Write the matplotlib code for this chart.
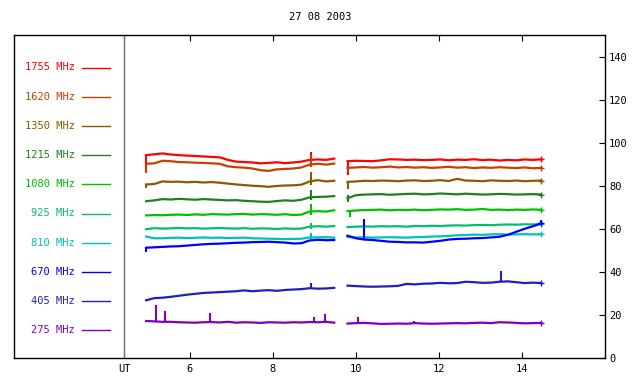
import numpy as np
import matplotlib
matplotlib.use("Agg")
import matplotlib.pyplot as plt
from matplotlib.lines import Line2D

plt.rcParams['font.family'] = ['DejaVu Sans Mono']

# частоты и цвета каналов
freqs = ["1755", "1620", "1350", "1215", "1080", "925", "810", "670", "405", "275"]
colors = ["#ff0000", "#c84000", "#8c5a00", "#208020", "#00c000",
          "#00c070", "#00c0c0", "#0000ff", "#2020c0", "#8000c0"]

# моменты отсчётов (UT, часы) для двух сеансов
t1 = np.linspace(4.95, 9.48, 24)
t2 = np.linspace(9.80, 14.47, 24)

# первый сеанс
s1 = {
    "1755": [94.2, 94.6, 95.0, 94.5, 94.2, 94.0, 93.8, 93.6, 93.4, 93.2, 92.0, 91.2,
             91.0, 90.8, 90.4, 90.6, 90.9, 90.5, 90.8, 91.2, 92.0, 92.2, 92.0, 92.6],
    "1620": [90.2, 90.4, 91.6, 91.4, 91.0, 90.9, 90.7, 90.6, 90.4, 90.2, 89.0, 88.6,
             88.4, 88.0, 87.2, 86.9, 87.6, 87.8, 88.0, 88.5, 89.8, 90.2, 89.8, 90.3],
    "1350": [80.6, 80.8, 82.0, 81.8, 81.9, 81.6, 81.8, 81.5, 81.7, 81.4, 81.0, 80.6,
             80.3, 80.0, 79.8, 79.5, 79.9, 80.1, 80.2, 80.5, 82.0, 82.6, 82.0, 82.3],
    "1215": [72.8, 73.2, 73.8, 73.6, 73.9, 73.7, 73.5, 73.8, 73.6, 73.4, 73.2, 73.3,
             73.0, 72.8, 72.6, 72.5, 72.9, 73.2, 73.0, 73.5, 74.6, 74.8, 74.9, 75.2],
    "1080": [66.2, 66.4, 66.3, 66.5, 66.6, 66.4, 66.7, 66.5, 66.8, 66.7, 66.6, 66.8,
             66.9, 66.6, 66.8, 66.7, 66.5, 66.8, 66.4, 66.6, 68.0, 68.2, 68.0, 68.6],
    "925":  [59.8, 60.3, 60.1, 60.2, 60.4, 60.2, 60.3, 60.1, 60.2, 60.4, 60.2, 60.1,
             60.3, 60.0, 60.2, 60.1, 59.9, 60.2, 60.0, 60.1, 61.0, 61.2, 61.0, 61.3],
    "810":  [56.4, 55.6, 55.6, 55.8, 55.9, 55.7, 55.8, 56.0, 55.8, 55.9, 55.7, 55.8,
             55.9, 55.6, 55.5, 55.4, 55.3, 55.2, 55.3, 55.4, 56.0, 56.0, 56.1, 55.9],
    "670":  [51.2, 51.4, 51.6, 51.8, 51.9, 52.2, 52.5, 52.8, 53.0, 53.1, 53.3, 53.5,
             53.6, 53.8, 53.9, 54.0, 53.8, 53.6, 53.2, 53.3, 54.6, 54.9, 54.7, 54.8],
    "405":  [26.8, 27.8, 28.0, 28.4, 28.9, 29.4, 29.8, 30.2, 30.4, 30.6, 30.8, 31.0,
             31.4, 31.0, 31.3, 31.5, 31.2, 31.6, 31.8, 32.0, 32.4, 32.2, 32.3, 32.6],
    "275":  [17.2, 17.0, 16.8, 16.8, 16.6, 16.5, 16.4, 16.6, 16.7, 16.5, 16.8, 16.4,
             16.6, 16.5, 16.3, 16.6, 16.5, 16.4, 16.6, 16.5, 16.7, 16.6, 16.8, 16.4],
}

# второй сеанс
s2 = {
    "1755": [91.4, 91.6, 91.5, 91.4, 91.8, 92.3, 92.2, 92.0, 92.1, 91.9, 92.0, 92.2,
             91.8, 92.1, 92.0, 92.3, 91.9, 92.1, 91.7, 92.0, 91.8, 92.2, 92.0, 92.3],
    "1620": [88.3, 88.5, 88.7, 88.4, 88.6, 88.9, 88.5, 88.7, 88.4, 88.6, 88.3, 88.5,
             88.8, 88.4, 88.6, 88.2, 88.5, 88.3, 88.6, 88.4, 88.2, 88.5, 88.1, 88.3],
    "1350": [81.8, 82.0, 82.3, 82.2, 82.4, 82.3, 82.1, 82.4, 82.5, 82.2, 82.3, 82.6,
             82.2, 83.2, 82.4, 82.3, 82.1, 82.5, 82.3, 82.2, 82.4, 82.1, 82.3, 82.4],
    "1215": [74.2, 75.6, 75.9, 76.0, 76.1, 75.8, 76.0, 76.2, 76.3, 76.0, 76.1, 76.4,
             76.2, 76.0, 76.3, 76.1, 75.9, 76.0, 76.2, 76.1, 75.9, 76.0, 76.1, 75.9],
    "1080": [68.2, 68.5, 68.7, 68.8, 68.9, 68.6, 68.8, 68.7, 68.9, 68.6, 68.8, 69.0,
             68.9, 69.1, 68.8, 68.9, 69.2, 68.8, 68.9, 68.7, 68.9, 68.8, 69.0, 68.8],
    "925":  [60.8, 61.0, 61.1, 61.0, 61.2, 61.1, 61.2, 61.0, 61.3, 61.2, 61.4, 61.3,
             61.5, 61.6, 61.5, 61.7, 61.8, 61.7, 61.9, 62.0, 61.9, 62.1, 62.0, 62.4],
    "810":  [56.2, 56.0, 56.1, 55.9, 56.0, 56.1, 56.0, 55.9, 56.1, 56.2, 56.4, 56.5,
             56.7, 57.0, 57.1, 57.3, 57.2, 57.4, 57.5, 57.3, 57.4, 57.5, 57.4, 57.5],
    "670":  [56.8, 55.6, 55.0, 54.8, 54.4, 54.0, 53.9, 53.7, 53.7, 53.6, 54.0, 54.4,
             55.0, 55.3, 55.4, 55.6, 55.7, 56.0, 56.3, 57.2, 58.6, 60.0, 61.2, 62.5],
    "405":  [33.6, 33.4, 33.2, 33.1, 33.2, 33.3, 33.5, 34.4, 34.2, 34.5, 34.6, 34.9,
             34.7, 34.8, 35.4, 35.2, 34.9, 35.0, 35.4, 35.6, 35.2, 34.8, 35.0, 34.8],
    "275":  [16.0, 16.2, 16.3, 16.1, 15.8, 15.9, 16.0, 15.9, 16.2, 16.0, 15.9, 16.0,
             16.1, 16.2, 16.1, 16.3, 16.4, 16.2, 16.6, 16.5, 16.3, 16.1, 16.2, 16.3],
}

# всплески и провалы: (время, от, до)
spikes = {
    "1755": [(4.95, 88.0, 94.6), (8.93, 91.5, 95.5), (9.80, 85.0, 91.6)],
    "1620": [(4.95, 86.0, 90.5), (8.93, 88.5, 94.5), (9.80, 86.5, 88.5)],
    "1350": [(4.95, 79.0, 81.0), (8.93, 80.5, 86.5), (9.80, 78.5, 82.0)],
    "1215": [(8.93, 73.5, 78.0), (9.80, 72.5, 75.5)],
    "1080": [(8.93, 66.6, 71.5), (9.85, 65.5, 68.5)],
    "925":  [(8.93, 60.1, 62.8)],
    "810":  [(8.93, 55.4, 58.0)],
    "670":  [(4.95, 49.0, 51.5), (10.20, 55.0, 64.5), (14.45, 62.0, 64.0)],
    "405":  [(8.93, 32.0, 34.8), (13.50, 35.2, 40.5)],
    "275":  [(5.20, 16.8, 24.6), (5.40, 16.6, 21.8), (6.50, 16.5, 20.9), (9.00, 16.5, 19.0),
             (9.25, 16.5, 20.4), (10.05, 16.0, 18.9), (11.40, 16.0, 17.4)],
}

fig = plt.figure(figsize=(6.4, 3.84), dpi=100)
ax = fig.add_axes([14 / 640, 26 / 384, 591 / 640, 323 / 384])

for f, c in zip(freqs, colors):
    ax.plot(t1, s1[f], color=c, lw=1.6)
    ax.plot(t2, s2[f], color=c, lw=1.6)
    sp_t = [s[0] for s in spikes[f]]
    sp_lo = [s[1] for s in spikes[f]]
    sp_hi = [s[2] for s in spikes[f]]
    ax.vlines(sp_t, sp_lo, sp_hi, color=c, lw=1.5)
    ax.plot(t2[-1:], s2[f][-1:], "+", color=c, ms=4, mew=1)

ax.set_xlim(1.77, 16.0)
ax.set_ylim(0, 150)
ax.axvline(4.43, color="#707070", lw=1)

ax.set_xticks([4.43, 6, 8, 10, 12, 14])
ax.set_xticklabels(["UT", "6", "8", "10", "12", "14"])
ax.tick_params(axis="x", direction="in", length=4, top=True, labelsize=7.5, pad=4)
ax.yaxis.tick_right()
ax.set_yticks(range(0, 141, 20))
ax.tick_params(axis="y", direction="in", length=4, labelsize=7.5, pad=3)
for sp in ax.spines.values():
    sp.set_linewidth(1)

fig.text(0.5, 1 - 17 / 384, "27 08 2003", ha="center", va="center", fontsize=7.5)

# подписи каналов слева
for i, (f, c) in enumerate(zip(freqs, colors)):
    y = 1 - (67.5 + 29.2 * i) / 384
    fig.text(75 / 640, y, f + " MHz", color=c, ha="right", va="center", fontsize=7.5)
    fig.add_artist(Line2D([82 / 640, 110 / 640], [y, y], color=c, lw=1,
                          transform=fig.transFigure))

fig.savefig("out.png", dpi=100)
